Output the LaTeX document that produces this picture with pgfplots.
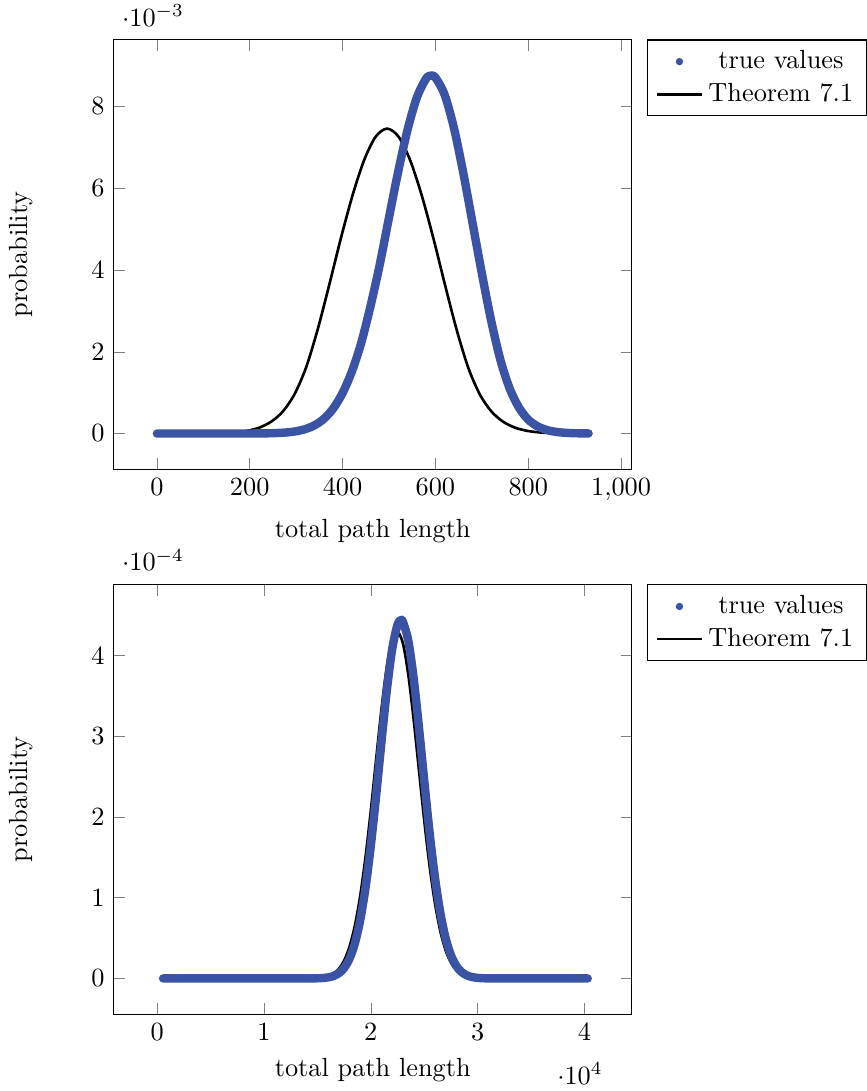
\documentclass[border=0pt]{standalone}
\usepackage{pgfplots}
\pgfplotsset{compat=1.18}
\definecolor{tv}{RGB}{59,83,164}
\begin{document}
\begin{tikzpicture}
\pgfplotsset{
  myax/.style={scale only axis, width=197pt, height=163.5pt, enlargelimits=false,
    xlabel={total path length}, ylabel={probability},
    ylabel style={at={(axis description cs:-0.139,0.5)}, anchor=south},
    legend pos=outer north east, reverse legend},
  truestyle/.style={tv, line width=3.2pt, line cap=round, line join=round, smooth, mark=none,
    legend image code/.code={\fill[tv, draw=none, line width=0pt] (0.3cm,0cm) circle (1.4pt);}},
  thmstyle/.style={black, line width=1pt, smooth, mark=none},
}
\begin{axis}[myax, xmin=-93, xmax=1023, ymin=-0.878e-3, ymax=9.64e-3]
\addplot[thmstyle] coordinates {
(0,0)(46,0.0002e-3)(96,0.0018e-3)(146,0.0127e-3)(171,0.0305e-3)(196,0.0689e-3)(221,0.1455e-3)(246,0.288e-3)(271,0.535e-3)(296,0.950e-3)(321,1.603e-3)(346,2.530e-3)(371,3.623e-3)(396,4.760e-3)(421,5.808e-3)(446,6.675e-3)(471,7.256e-3)(496,7.46e-3)(521,7.256e-3)(546,6.675e-3)(571,5.808e-3)(596,4.760e-3)(621,3.623e-3)(646,2.530e-3)(671,1.603e-3)(696,0.950e-3)(721,0.535e-3)(746,0.288e-3)(771,0.1455e-3)(796,0.0689e-3)(821,0.0305e-3)(846,0.0127e-3)(896,0.0018e-3)(930,0.0005e-3)
};
\addlegendentry{Theorem 7.1}
\addplot[truestyle] coordinates {
(0,0)(150,0.0001e-3)(200,0.0008e-3)(240,0.0056e-3)(260,0.0126e-3)(280,0.0271e-3)(300,0.0557e-3)(320,0.109e-3)(340,0.2033e-3)(360,0.3615e-3)(380,0.613e-3)(400,0.991e-3)(420,1.516e-3)(440,2.210e-3)(460,3.107e-3)(480,4.127e-3)(500,5.282e-3)(520,6.415e-3)(540,7.431e-3)(560,8.218e-3)(580,8.685e-3)(591,8.757e-3)(600,8.710e-3)(620,8.283e-3)(640,7.472e-3)(660,6.380e-3)(680,5.152e-3)(700,3.922e-3)(720,2.768e-3)(740,1.802e-3)(760,1.102e-3)(780,0.635e-3)(800,0.340e-3)(820,0.177e-3)(840,0.087e-3)(860,0.0403e-3)(880,0.0176e-3)(900,0.0072e-3)(930,0.0017e-3)
};
\addlegendentry{true values}
\end{axis}
\begin{axis}[myax, at={(0pt,-207.2pt)}, xmin=-4060, xmax=44420, ymin=-0.444e-4, ymax=4.884e-4]
\addplot[thmstyle] coordinates {
(600,0)(10000,0)(14000,0.00075e-4)(15000,0.00511e-4)(15500,0.0123e-4)(16000,0.0277e-4)(16500,0.0587e-4)(17000,0.1173e-4)(17500,0.2205e-4)(18000,0.3898e-4)(18500,0.6491e-4)(19000,1.0167e-4)(19500,1.499e-4)(20000,2.080e-4)(20500,2.717e-4)(21000,3.339e-4)(21500,3.863e-4)(22000,4.205e-4)(22450,4.31e-4)(23000,4.155e-4)(23500,3.770e-4)(24000,3.220e-4)(24500,2.588e-4)(25000,1.958e-4)(25500,1.394e-4)(26000,0.934e-4)(26500,0.589e-4)(27000,0.3496e-4)(27500,0.1953e-4)(28000,0.1027e-4)(28500,0.0508e-4)(29000,0.0237e-4)(29500,0.0104e-4)(30000,0.0043e-4)(31000,0.0006e-4)(35000,0)(40300,0)
};
\addlegendentry{Theorem 7.1}
\addplot[truestyle] coordinates {
(560,0)(5000,0)(10000,0)(14000,0.0002e-4)(15000,0.00213e-4)(15500,0.00547e-4)(16000,0.0132e-4)(16500,0.0301e-4)(17000,0.0643e-4)(17500,0.1291e-4)(18000,0.2432e-4)(18500,0.4307e-4)(19000,0.7166e-4)(19500,1.1193e-4)(20000,1.643e-4)(20500,2.266e-4)(21000,2.935e-4)(21500,3.571e-4)(22000,4.082e-4)(22500,4.384e-4)(22820,4.44e-4)(23000,4.422e-4)(23500,4.191e-4)(24000,3.731e-4)(24500,3.120e-4)(25000,2.451e-4)(25500,1.809e-4)(26000,1.254e-4)(26500,0.817e-4)(27000,0.500e-4)(27500,0.2873e-4)(28000,0.1552e-4)(28500,0.0787e-4)(29000,0.0375e-4)(29500,0.0168e-4)(30000,0.0071e-4)(30500,0.0028e-4)(31000,0.001e-4)(32000,0.0001e-4)(35000,0)(40300,0)
};
\addlegendentry{true values}
\end{axis}
\path (0pt,178.5pt);
\end{tikzpicture}
\end{document}
